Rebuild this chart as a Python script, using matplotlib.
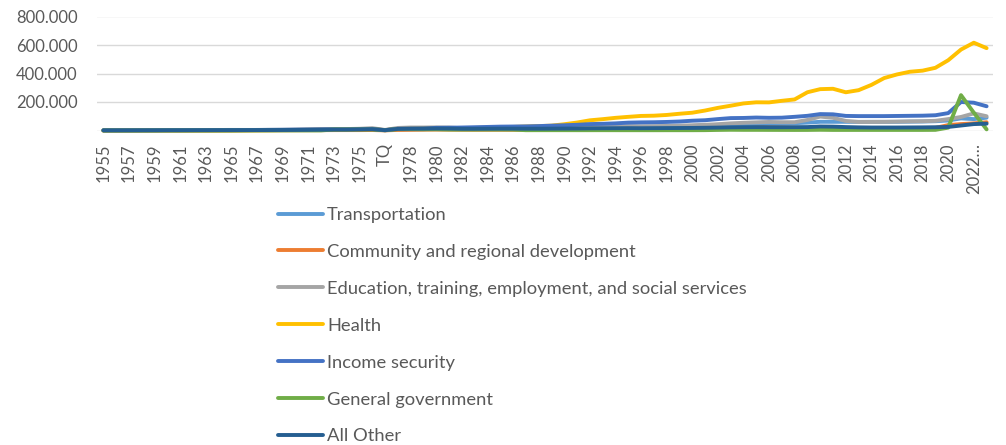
import numpy as np
import matplotlib
matplotlib.use("Agg")
import matplotlib.pyplot as plt
from matplotlib.ticker import FuncFormatter

plt.rcParams['font.family'] = ['Lato', 'DejaVu Sans']

# Fiscal years, with the transition quarter between 1976 and 1977
years = [str(y) for y in range(1955, 1977)] + ['TQ'] + [str(y) for y in range(1977, 2024)]

# Grants by function, in billions (plotted in millions)
transportation = [0.6, 0.8, 1.0, 1.5, 2.7, 3.0, 2.7, 3.0, 3.4, 3.7, 4.1, 4.0, 4.0, 4.3, 4.4, 4.6, 4.9, 5.1, 5.2, 5.0, 5.9, 6.5,
                  1.6,
                  7.4, 8.2, 9.0, 13.0, 13.4, 12.2, 12.6, 14.2, 17.6, 18.6, 17.4, 18.0, 18.3, 19.2, 20.0, 21.0, 22.6, 24.0, 25.8,
                  25.6, 25.7, 26.0, 28.9, 32.2, 35.0, 40.0, 41.0, 41.5, 43.4, 46.7, 47.9, 51.2, 55.4, 61.0, 60.9, 60.7, 60.5,
                  61.0, 60.8, 61.0, 62.0, 63.0, 65.0, 70.0, 85.0, 80.0, 90.0]
community = [0.01, 0.02, 0.03, 0.05, 0.08, 0.1, 0.1, 0.2, 0.3, 0.4, 0.6, 0.8, 1.0, 1.2, 1.5, 1.8, 2.2, 2.5, 2.7, 2.8, 2.8, 3.3,
             0.9,
             4.0, 5.0, 6.0, 6.5, 6.0, 5.4, 5.0, 5.1, 5.2, 4.9, 4.6, 4.3, 4.0, 5.0, 4.3, 4.1, 4.8, 6.0, 7.2,
             7.0, 7.5, 8.0, 8.4, 8.7, 9.0, 10.5, 12.5, 12.0, 20.2, 21.3, 20.0, 18.0, 16.0, 18.8, 20.0, 18.0, 14.0,
             13.0, 14.0, 12.0, 13.0, 14.0, 18.0, 38.0, 45.0, 50.0, 58.0]
education = [0.3, 0.3, 0.3, 0.4, 0.4, 0.5, 0.6, 0.6, 0.7, 0.8, 1.1, 2.8, 3.6, 4.4, 4.8, 6.4, 7.4, 9.0, 9.6, 10.3, 12.1, 16.5,
             4.0,
             18.0, 21.0, 21.0, 21.9, 21.0, 16.0, 15.0, 15.5, 17.0, 17.5, 18.0, 19.0, 20.0, 21.8, 23.0, 25.0, 27.0, 28.0, 30.9,
             30.0, 30.5, 32.0, 34.0, 36.7, 40.0, 44.0, 50.0, 54.0, 57.2, 60.0, 58.0, 58.0, 74.0, 97.6, 89.1, 67.0, 60.0,
             60.0, 60.5, 62.0, 64.0, 65.0, 68.0, 80.0, 95.0, 120.0, 100.0]
health = [0.1, 0.1, 0.1, 0.1, 0.2, 0.2, 0.2, 0.3, 0.3, 0.4, 0.6, 1.2, 1.8, 2.3, 3.2, 3.8, 4.6, 5.6, 5.9, 6.6, 8.8, 10.0,
          2.6,
          11.0, 12.0, 13.0, 15.8, 17.0, 17.0, 18.0, 20.0, 24.5, 25.0, 28.0, 31.0, 34.0, 43.9, 55.8, 71.4, 79.5, 88.8, 95.8,
          102.2, 103.9, 109.0, 117.5, 124.8, 140.0, 158.7, 173.8, 189.9, 197.8, 197.3, 208.3, 218.0, 268.3, 290.2, 292.8,
          268.3, 283.0, 320.0, 368.0, 393.4, 412.2, 420.0, 440.0, 493.0, 568.0, 616.0, 578.0]
income_security = [1.4, 1.5, 1.6, 1.8, 2.0, 2.6, 2.8, 3.0, 3.2, 3.3, 3.5, 3.6, 3.9, 4.4, 5.0, 5.8, 7.0, 8.0, 9.0, 8.5, 9.4, 11.0,
                   2.8,
                   12.0, 13.0, 14.0, 18.5, 19.5, 21.0, 23.0, 25.0, 27.2, 28.0, 29.0, 31.0, 34.0, 36.8, 40.0, 45.0, 47.0, 50.0,
                   55.1, 57.0, 58.0, 60.0, 63.0, 68.7, 72.0, 80.0, 87.0, 88.0, 90.9, 89.0, 90.0, 96.0, 103.0, 115.2, 113.6,
                   102.4, 101.0, 101.0, 101.0, 102.0, 103.0, 104.0, 107.0, 122.0, 200.0, 195.0, 170.0]
general_government = [0.1, 0.1, 0.1, 0.1, 0.1, 0.2, 0.2, 0.2, 0.2, 0.2, 0.2, 0.2, 0.3, 0.3, 0.4, 0.5, 0.5, 0.5, 7.0, 6.8, 7.1, 7.2,
                      2.0,
                      9.5, 9.5, 8.4, 8.6, 6.8, 6.4, 6.6, 6.8, 6.8, 6.4, 2.2, 2.3, 2.3, 2.3, 2.2, 2.2, 2.3, 2.2, 2.1,
                      2.1, 2.0, 2.1, 2.1, 2.1, 2.5, 4.0, 5.0, 4.5, 4.5, 4.2, 4.0, 3.8, 4.0, 5.0, 4.0, 4.0, 4.0,
                      4.0, 4.0, 4.0, 4.0, 4.0, 4.5, 20.0, 248.0, 125.0, 8.0]
all_other = [0.8, 0.9, 1.0, 1.2, 1.3, 1.5, 1.6, 1.8, 2.0, 2.3, 2.5, 2.7, 3.0, 3.3, 3.6, 4.0, 4.6, 5.4, 6.0, 6.3, 7.6, 9.0,
             2.4,
             11.0, 12.5, 13.0, 14.0, 13.5, 12.0, 12.0, 12.5, 13.0, 13.0, 12.5, 12.5, 13.0, 13.5, 14.0, 15.0, 15.5, 16.0, 16.5,
             16.0, 16.5, 17.0, 17.5, 18.0, 19.0, 20.5, 22.0, 23.0, 23.5, 23.0, 23.0, 23.5, 24.0, 28.0, 27.0, 24.0, 22.0,
             21.0, 21.0, 21.0, 21.5, 22.0, 23.0, 25.0, 35.0, 45.0, 48.0]

series = [
    ('Transportation', transportation, '#5B9BD5'),
    ('Community and regional development', community, '#ED7D31'),
    ('Education, training, employment, and social services', education, '#A5A5A5'),
    ('Health', health, '#FFC000'),
    ('Income security', income_security, '#4472C4'),
    ('General government', general_government, '#70AD47'),
    ('All Other', all_other, '#255E91'),
]

fig = plt.figure(figsize=(10.06, 4.45), dpi=100)
ax = fig.add_axes([97 / 1006, 1 - 130.5 / 445, (993 - 97) / 1006, (130.5 - 16.5) / 445])

x = np.arange(len(years))
for name, vals, col in series:
    ax.plot(x, np.array(vals) * 1000, color=col, lw=2.8, label=name,
            solid_capstyle='round', solid_joinstyle='round', clip_on=False)

ax.set_xlim(-0.5, len(years) - 0.5)
ax.set_ylim(0, 800000)
ax.set_yticks([0, 200000, 400000, 600000, 800000])
ax.yaxis.set_major_formatter(FuncFormatter(lambda v, p: '' if v == 0 else f'{v:,.0f}'.replace(',', '.')))

labels = [years[i] for i in range(0, len(years), 2)]
labels[-1] = labels[-1] + '\u2026'
ax.set_xticks(x[::2])
ax.set_xticklabels(labels, rotation=90, va='top', ha='center')

ax.grid(axis='y', color='#D9D9D9', lw=1)
ax.set_axisbelow(True)
for s in ax.spines.values():
    s.set_visible(False)
ax.tick_params(axis='both', length=0, labelsize=12, colors='#595959')
ax.tick_params(axis='x', pad=9)
ax.tick_params(axis='y', pad=14)

fig.legend(loc='upper left', bbox_to_anchor=(278 / 1006, 1 - 207 / 445), frameon=False,
           fontsize=13.2, labelcolor='#595959', handlelength=2.46, handletextpad=0.22,
           labelspacing=1.14, borderpad=0, borderaxespad=0)

plt.savefig('out.png', dpi=100)
